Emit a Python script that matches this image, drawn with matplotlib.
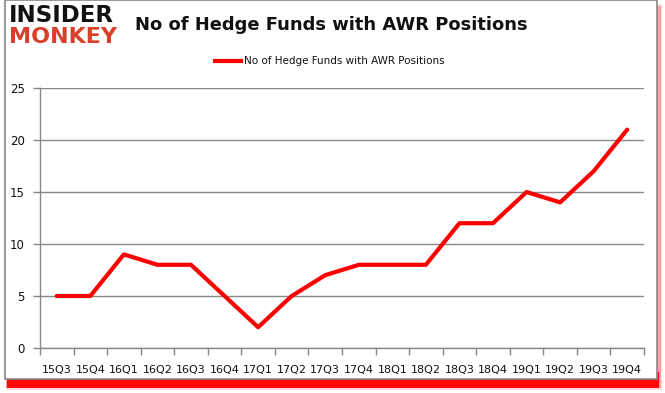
import matplotlib
matplotlib.use("Agg")
import matplotlib.pyplot as plt
from matplotlib.patches import Rectangle
from matplotlib.lines import Line2D

quarters = ["15Q3", "15Q4", "16Q1", "16Q2", "16Q3", "16Q4", "17Q1", "17Q2", "17Q3",
            "17Q4", "18Q1", "18Q2", "18Q3", "18Q4", "19Q1", "19Q2", "19Q3", "19Q4"]
funds = [5, 5, 9, 8, 8, 5, 2, 5, 7, 8, 8, 8, 12, 12, 15, 14, 17, 21]
yticks = [0, 5, 10, 15, 20, 25]

W, H = 665, 393
fig = plt.figure(figsize=(W / 100, H / 100), dpi=100)
fig.patch.set_facecolor("white")

def px(x, y, w, h):
    return (x / W, 1 - (y + h) / H, w / W, h / H)

# frame with red shadow
for (x0, y0, w0, h0, c, a) in [(6, 4, 656, 386, "#ff0000", 0.15),
                                (6, 6, 655, 382, "#ff0000", 0.25),
                                (7, 372, 652, 16, "#ff0000", 0.95)]:
    sx, sy, sw, sh = px(x0, y0, w0, h0)
    fig.patches.append(Rectangle((sx, sy), sw, sh, transform=fig.transFigure,
                                 facecolor=c, edgecolor="none", alpha=a, zorder=0))
fx, fy, fw, fh = px(5, 0, 652, 379)
fig.patches.append(Rectangle((fx, fy), fw, fh, transform=fig.transFigure,
                             facecolor="white", edgecolor="#888888", lw=1.2, zorder=1))

ax = fig.add_axes(px(40, 88, 604, 260))
ax.set_zorder(2)
ax.patch.set_alpha(0)
x = list(range(len(quarters)))
ax.plot(x, funds, color="#ff0000", lw=3, solid_capstyle="round", zorder=3)
ax.set_xlim(-0.5, len(quarters) - 0.5)
ax.set_ylim(0, 25)
ax.set_yticks(yticks)
ax.set_xticks(x)
ax.set_xticklabels(quarters)
ax.set_xticks([i - 0.5 for i in range(len(quarters) + 1)], minor=True)
ax.tick_params(axis="x", which="major", length=0, pad=12, labelsize=8, labelcolor="#111111")
ax.tick_params(axis="x", which="minor", length=5, color="#888888", width=1)
ax.tick_params(axis="y", length=5, color="#888888", width=1, labelsize=8.5, pad=6, labelcolor="#111111")
for s in ["top", "right"]:
    ax.spines[s].set_visible(False)
for s in ["left", "bottom"]:
    ax.spines[s].set_color("#888888")
    ax.spines[s].set_linewidth(1)
ax.yaxis.grid(True, color="#888888", lw=1)
ax.set_axisbelow(True)

fig.text(331 / W, 1 - 25 / H, "No of Hedge Funds with AWR Positions", ha="center", va="center",
         fontsize=12.9, fontweight="bold", color="#111111", zorder=5)

# legend
fig.lines.append(Line2D([215 / W, 241 / W], [1 - 61 / H, 1 - 61 / H], transform=fig.transFigure,
                        color="#ff0000", lw=3, zorder=5))
fig.text(244 / W, 1 - 61 / H, "No of Hedge Funds with AWR Positions", ha="left", va="center",
         fontsize=7.5, color="#111111", zorder=5)

# logo
fig.text(9 / W, 1 - 16 / H, "INSIDER", ha="left", va="center", fontsize=16.5,
         fontweight="heavy", color="#111111", zorder=5, family="DejaVu Sans")
fig.text(9 / W, 1 - 37 / H, "MONKEY", ha="left", va="center", fontsize=16,
         fontweight="heavy", color="#d9402b", zorder=5, family="DejaVu Sans")

fig.savefig("out.png", dpi=100)
